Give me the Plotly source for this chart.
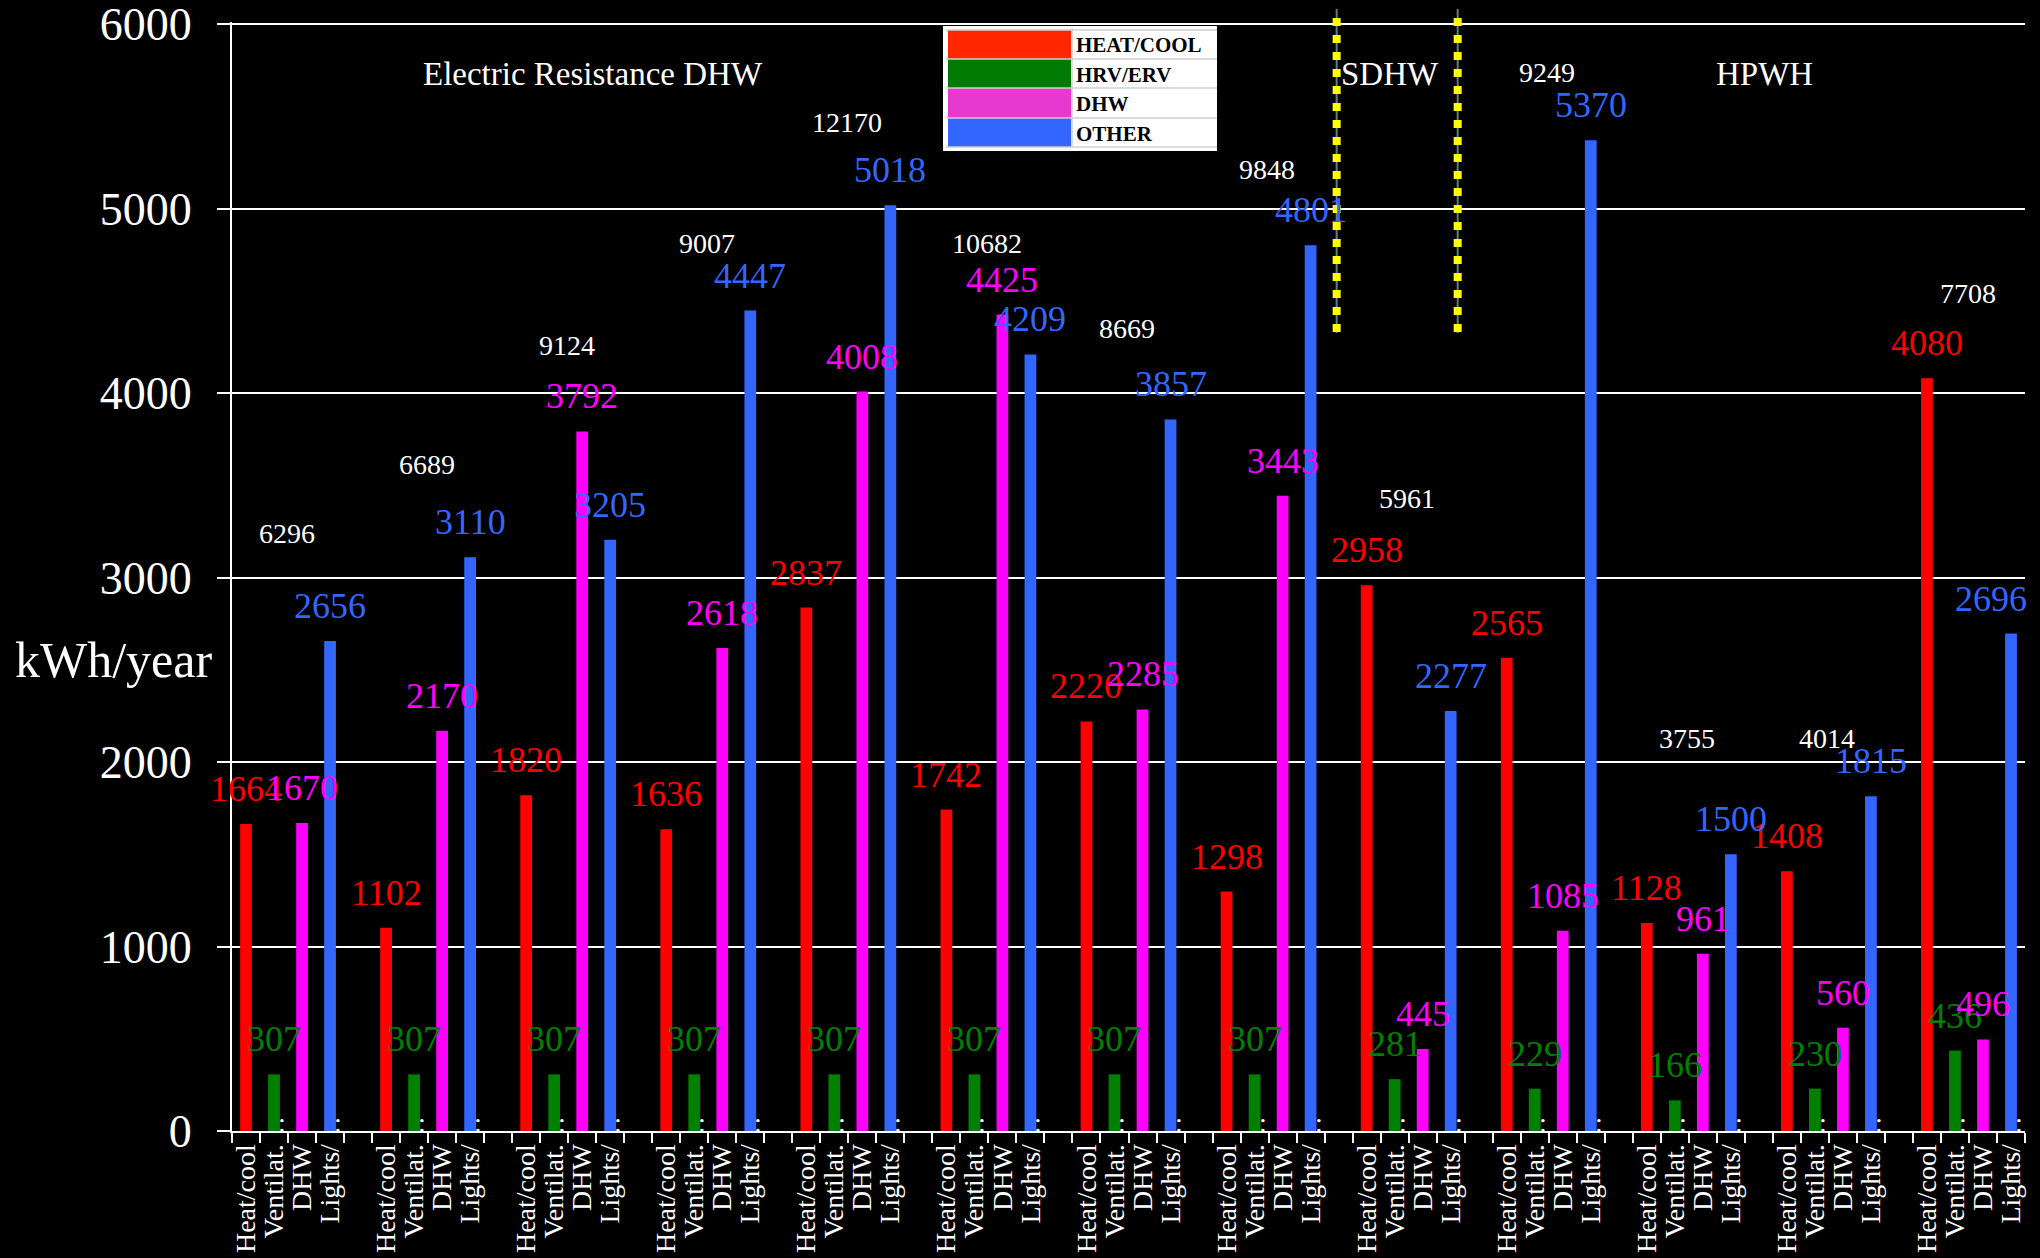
import plotly.graph_objects as go

# Annual electricity use per end use, one group per house configuration
heat_cool = [1664, 1102, 1820, 1636, 2837, 1742, 2220, 1298, 2958, 2565, 1128, 1408, 4080]
ventilation = [307, 307, 307, 307, 307, 307, 307, 307, 281, 229, 166, 230, 436]
dhw = [1670, 2170, 3792, 2618, 4008, 4425, 2285, 3443, 445, 1085, 961, 560, 496]
other = [2656, 3110, 3205, 4447, 5018, 4209, 3857, 4801, 2277, 5370, 1500, 1815, 2696]
totals = [6296, 6689, 9124, 9007, 12170, 10682, 8669, 9848, 5961, 9249, 3755, 4014, 7708]

bar_labels = ["Heat/cool", "Ventilat.", "DHW", "Lights/"]
legend_names = ["HEAT/COOL", "HRV/ERV", "DHW", "OTHER"]
system_titles = ["Electric Resistance DHW", "SDHW", "HPWH"]
y_ticks = [0, 1000, 2000, 3000, 4000, 5000, 6000]

# ---- styling / layout settings ----
W, H = 2040, 1258
M_L, M_R, M_T, M_B = 232, 15, 22, 127
PW, PH = W - M_L - M_R, H - M_T - M_B
Y_MAX = 6011              # a little headroom so the 6000 gridline is kept
SERIF = "Liberation Serif, Times New Roman, serif"

bar_colors = ["#FF0000", "#008000", "#FF00FF", "#3366FF"]
swatch_colors = ["#FF2600", "#007A00", "#E838D0", "#3366FF"]
GROUP_STRIDE = 5          # four bars plus one empty slot per group
BAR_WIDTH = 0.42
# vertical lift (kWh) of each group's total above its tallest bar
total_lift = [585, 505, 468, 366, 451, 388, 495, 408, 473, 370, 630, 315, 457]


def px_x(px):
    return (px - M_L) / PW


def px_y(py):
    return (H - M_B - py) / PH


series = [heat_cool, ventilation, dhw, other]
n_groups = len(heat_cool)
n_slots = n_groups * GROUP_STRIDE - 1

fig = go.Figure()
for b, (vals, col) in enumerate(zip(series, bar_colors)):
    fig.add_trace(go.Bar(
        x=[g * GROUP_STRIDE + b for g in range(n_groups)],
        y=vals,
        width=BAR_WIDTH,
        marker=dict(color=col, line=dict(width=0)),
        showlegend=False,
        hoverinfo="x+y",
    ))

annotations = []
# value labels above each bar
for b, (vals, col) in enumerate(zip(series, bar_colors)):
    for g, v in enumerate(vals):
        xpos = g * GROUP_STRIDE + b
        annotations.append(dict(
            x=xpos, y=v, xref="x", yref="y",
            text=str(v), showarrow=False, yanchor="bottom", yshift=13,
            xshift=-20 if xpos == n_slots - 1 else 0,   # keep the last label inside
            font=dict(family=SERIF, size=36, color=col),
        ))

# group totals
for g, t in enumerate(totals):
    top = max(s[g] for s in series)
    annotations.append(dict(
        x=g * GROUP_STRIDE + 1.45, y=top + total_lift[g], xref="x", yref="y",
        text=str(t), showarrow=False, yanchor="middle",
        font=dict(family=SERIF, size=28, color="white"),
    ))

# truncated-label dots for the long category names
for g in range(n_groups):
    for b in (1, 3):
        annotations.append(dict(
            x=g * GROUP_STRIDE + b, y=0, xref="x", yref="y",
            text=":", showarrow=False, yanchor="bottom", xshift=8, yshift=-9,
            font=dict(family=SERIF, size=28, color="white"),
        ))

# system titles
for txt, cx in zip(system_titles, [593, 1390, 1764]):
    annotations.append(dict(
        x=px_x(cx), y=px_y(74), xref="paper", yref="paper",
        text=txt, showarrow=False, xanchor="center", yanchor="middle",
        font=dict(family=SERIF, size=33, color="white"),
    ))

# y-axis title
annotations.append(dict(
    x=px_x(13), y=px_y(660), xref="paper", yref="paper",
    text="kWh/year", showarrow=False, xanchor="left", yanchor="middle",
    font=dict(family=SERIF, size=50, color="white"),
))

shapes = []
# legend table
LG_X0, LG_X1, LG_Y0, LG_Y1 = 943, 1217, 26, 151
shapes.append(dict(type="rect", xref="paper", yref="paper",
                   x0=px_x(LG_X0), x1=px_x(LG_X1), y0=px_y(LG_Y1), y1=px_y(LG_Y0),
                   fillcolor="white", line=dict(width=0), layer="above"))
row_edges = [30, 59, 88, 118, 147]
for i, name in enumerate(legend_names):
    y_top, y_bot = row_edges[i], row_edges[i + 1]
    shapes.append(dict(type="rect", xref="paper", yref="paper",
                       x0=px_x(948), x1=px_x(1071), y0=px_y(y_bot), y1=px_y(y_top),
                       fillcolor=swatch_colors[i], line=dict(width=0), layer="above"))
    annotations.append(dict(
        x=px_x(1074), y=px_y((y_top + y_bot) / 2 + 1), xref="paper", yref="paper",
        text="<b>%s</b>" % name, showarrow=False, xanchor="left", yanchor="middle",
        font=dict(family=SERIF, size=21, color="black"),
    ))
for ry in row_edges:
    shapes.append(dict(type="line", xref="paper", yref="paper",
                       x0=px_x(946), x1=px_x(1217), y0=px_y(ry), y1=px_y(ry),
                       line=dict(color="#cfcfcf", width=1.5), layer="above"))
shapes.append(dict(type="line", xref="paper", yref="paper",
                   x0=px_x(1072), x1=px_x(1072), y0=px_y(147), y1=px_y(28),
                   line=dict(color="#cfcfcf", width=1.5), layer="above"))

# dotted separators between the system groups
for sx in (38.93, 43.25):
    shapes.append(dict(type="line", xref="x", yref="paper",
                       x0=sx, x1=sx, y0=px_y(9), y1=px_y(333),
                       line=dict(color="#5f8080", width=2), layer="above"))
    shapes.append(dict(type="line", xref="x", yref="paper",
                       x0=sx, x1=sx, y0=px_y(18), y1=px_y(333),
                       line=dict(color="#FFFF00", width=8, dash="8px,9px"), layer="above"))

tick_pos = [g * GROUP_STRIDE + b for g in range(n_groups) for b in range(4)]
tick_txt = [bar_labels[b] for g in range(n_groups) for b in range(4)]

fig.update_layout(
    width=W, height=H,
    margin=dict(l=M_L, r=M_R, t=M_T, b=M_B),
    paper_bgcolor="black", plot_bgcolor="black",
    barmode="overlay",
    showlegend=False,
    annotations=annotations,
    shapes=shapes,
    xaxis=dict(
        range=[-0.5, n_slots - 0.5],
        automargin=False,
        tickmode="array", tickvals=tick_pos, ticktext=tick_txt,
        tickangle=-90, ticks="",
        tickfont=dict(family=SERIF, size=28, color="white"),
        ticklabeloverflow="allow",
        showgrid=False, zeroline=False,
        showline=True, linecolor="white", linewidth=2,
        minor=dict(tick0=0.5, dtick=1, ticks="outside", ticklen=10,
                   tickwidth=2, tickcolor="white", showgrid=False),
    ),
    yaxis=dict(
        range=[0, Y_MAX],
        automargin=False,
        tickmode="array", tickvals=y_ticks,
        ticks="outside", ticklen=13, tickwidth=2, tickcolor="white",
        ticklabelstandoff=16,
        ticklabeloverflow="allow",
        tickfont=dict(family=SERIF, size=46, color="white"),
        showgrid=True, gridcolor="white", gridwidth=2,
        zeroline=False,
        showline=True, linecolor="white", linewidth=2,
    ),
)

fig.write_html("out.html")
